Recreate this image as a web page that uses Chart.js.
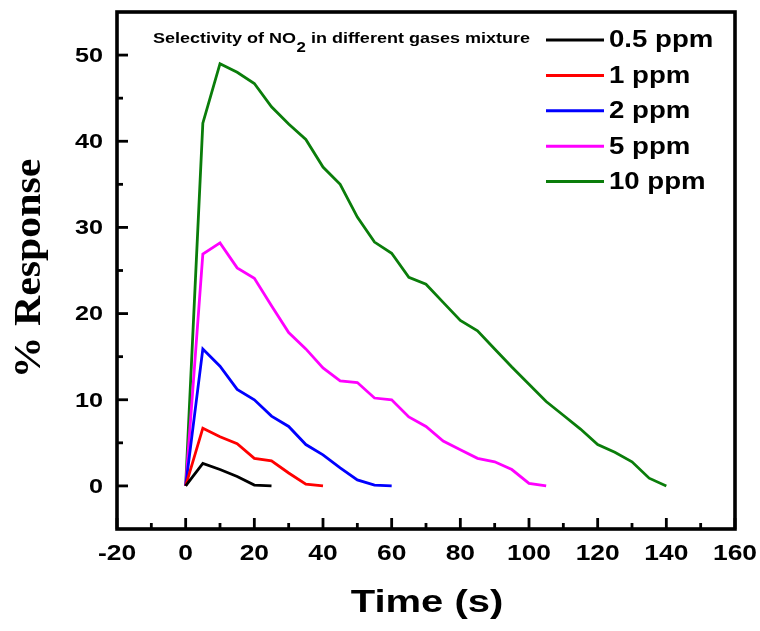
<!DOCTYPE html>
<html>
<head>
<meta charset="utf-8">
<title>Selectivity of NO2</title>
<script src="https://cdn.jsdelivr.net/npm/chart.js@4.4.1/dist/chart.umd.min.js"></script>
<style>
  html, body { margin: 0; padding: 0; background: #ffffff; }
  #wrap { width: 760px; height: 631px; }
</style>
</head>
<body>
<div id="wrap"><canvas id="chart" width="760" height="631"></canvas></div>
<script>
// Sampling times (s), shared by every concentration
const timeSec = [0, 5, 10, 15, 20, 25, 30, 35, 40, 45, 50, 55, 60, 65, 70,
                 75, 80, 85, 90, 95, 100, 105, 110, 115, 120, 125, 130, 135, 140];

// % response for each NO2 concentration
const seriesLabels = ['0.5 ppm', '1 ppm', '2 ppm', '5 ppm', '10 ppm'];
const seriesColors = ['#000000', '#ff0000', '#0000ff', '#ff00ff', '#0a7d0a'];
const resp05ppm = [0, 2.6, 1.9, 1.1, 0.1, 0];
const resp1ppm  = [0, 6.7, 5.7, 4.9, 3.2, 2.9, 1.5, 0.2, 0];
const resp2ppm  = [0, 15.9, 13.9, 11.2, 10.0, 8.1, 6.9, 4.8, 3.6, 2.1, 0.7, 0.1, 0];
const resp5ppm  = [0, 26.9, 28.2, 25.3, 24.1, 20.9, 17.8, 15.9, 13.7, 12.2, 12.0,
                   10.2, 10.0, 8.0, 6.9, 5.2, 4.2, 3.2, 2.8, 1.9, 0.3, 0];
const resp10ppm = [0, 42.1, 49.0, 48.0, 46.7, 44.0, 42.0, 40.2, 37.0, 35.0, 31.2,
                   28.3, 27.0, 24.2, 23.4, 21.3, 19.2, 18.0, 15.9, 13.8, 11.8,
                   9.8, 8.2, 6.6, 4.8, 3.9, 2.8, 0.9, 0];

// Axis ticks
const xTickValues = [-20, 0, 20, 40, 60, 80, 100, 120, 140, 160];
const xMinorValues = [-10, 10, 30, 50, 70, 90, 110, 130, 150];
const yTickValues = [0, 10, 20, 30, 40, 50];
const yMinorValues = [5, 15, 25, 35, 45];

const xTitle = 'Time (s)';
const yTitle = '% Response';
const legendTitleParts = ['Selectivity of NO', '2', ' in different gases mixture'];

const seriesValues = [resp05ppm, resp1ppm, resp2ppm, resp5ppm, resp10ppm];

const datasets = seriesValues.map((vals, i) => ({
  label: seriesLabels[i],
  data: vals.map((v, j) => ({ x: timeSec[j], y: v })),
  borderColor: seriesColors[i],
  backgroundColor: seriesColors[i],
  borderWidth: 2.8,
  pointRadius: 0,
  tension: 0,
  fill: false
}));

const SANS = '"Liberation Sans", Arial, Helvetica, sans-serif';
const SERIF = '"Liberation Serif", "Times New Roman", serif';
const SX = 1.2; // horizontal widening of the lettering

// Text drawn with a horizontal widening factor
function wideText(ctx, text, x, y, font, align, sx) {
  ctx.save();
  ctx.font = font;
  ctx.textBaseline = 'middle';
  ctx.textAlign = 'left';
  const w = ctx.measureText(text).width * sx;
  const x0 = align === 'center' ? x - w / 2 : align === 'right' ? x - w : x;
  ctx.translate(x0, y);
  ctx.scale(sx, 1);
  ctx.fillStyle = '#000';
  ctx.fillText(text, 0, 0);
  ctx.restore();
  return w;
}

const framePlugin = {
  id: 'frameAndLabels',
  afterDraw(chart) {
    const ctx = chart.ctx;
    const a = chart.chartArea;
    const xs = chart.scales.x, ys = chart.scales.y;

    ctx.save();
    ctx.strokeStyle = '#000';
    ctx.lineCap = 'butt';

    // inward tick marks on the bottom and left axes
    ctx.lineWidth = 2.8;
    xTickValues.forEach(v => {
      const px = xs.getPixelForValue(v);
      ctx.beginPath(); ctx.moveTo(px, a.bottom); ctx.lineTo(px, a.bottom - 11); ctx.stroke();
    });
    xMinorValues.forEach(v => {
      const px = xs.getPixelForValue(v);
      ctx.beginPath(); ctx.moveTo(px, a.bottom); ctx.lineTo(px, a.bottom - 6); ctx.stroke();
    });
    yTickValues.forEach(v => {
      const py = ys.getPixelForValue(v);
      ctx.beginPath(); ctx.moveTo(a.left, py); ctx.lineTo(a.left + 11, py); ctx.stroke();
    });
    yMinorValues.forEach(v => {
      const py = ys.getPixelForValue(v);
      ctx.beginPath(); ctx.moveTo(a.left, py); ctx.lineTo(a.left + 6, py); ctx.stroke();
    });

    // plot frame
    ctx.lineWidth = 3.6;
    ctx.strokeRect(a.left, a.top, a.right - a.left, a.bottom - a.top);
    ctx.restore();

    // tick labels
    const tickFontX = 'bold 22px ' + SANS;
    const tickFontY = 'bold 21px ' + SANS;
    xTickValues.forEach(v => {
      wideText(ctx, String(v), xs.getPixelForValue(v), a.bottom + 25, tickFontX, 'center', SX);
    });
    yTickValues.forEach(v => {
      wideText(ctx, String(v), a.left - 14, ys.getPixelForValue(v) + 1, tickFontY, 'right', SX);
    });

    // axis titles
    wideText(ctx, xTitle, (a.left + a.right) / 2 + 1, 603, 'bold 32px ' + SANS, 'center', 1.25);
    ctx.save();
    ctx.translate(30, (a.top + a.bottom) / 2 - 2);
    ctx.rotate(-Math.PI / 2);
    wideText(ctx, yTitle, 0, 0, 'bold 38px ' + SERIF, 'center', 1.1);
    ctx.restore();

    // legend heading with subscript
    const hFont = 'bold 15px ' + SANS;
    const subFont = 'bold 14px ' + SANS;
    let hx = 153;
    const hy = 39;
    hx += wideText(ctx, legendTitleParts[0], hx, hy, hFont, 'left', SX);
    hx += wideText(ctx, legendTitleParts[1], hx + 0.5, hy + 9, subFont, 'left', SX) + 0.5;
    wideText(ctx, legendTitleParts[2], hx, hy, hFont, 'left', SX);

    // legend entries
    chart.data.datasets.forEach((ds, i) => {
      const ly = 40 + i * 35.4;
      ctx.save();
      ctx.strokeStyle = ds.borderColor;
      ctx.lineWidth = 3;
      ctx.beginPath(); ctx.moveTo(546, ly); ctx.lineTo(604, ly); ctx.stroke();
      ctx.restore();
      wideText(ctx, ds.label, 609, ly + 1, 'bold 23px ' + SANS, 'left', SX);
    });
  }
};

new Chart(document.getElementById('chart'), {
  type: 'line',
  data: { datasets },
  options: {
    responsive: false,
    animation: false,
    devicePixelRatio: 1,
    layout: { padding: { top: 12, right: 25, left: 0, bottom: 0 } },
    plugins: {
      legend: { display: false },
      tooltip: { enabled: false },
      title: { display: false }
    },
    scales: {
      x: {
        type: 'linear',
        min: -20, max: 160,
        grid: { display: false },
        border: { display: false },
        ticks: { display: false },
        afterFit: s => { s.height = 102; }
      },
      y: {
        type: 'linear',
        min: -5, max: 55,
        grid: { display: false },
        border: { display: false },
        ticks: { display: false },
        afterFit: s => { s.width = 117; }
      }
    }
  },
  plugins: [framePlugin]
});
</script>
</body>
</html>
